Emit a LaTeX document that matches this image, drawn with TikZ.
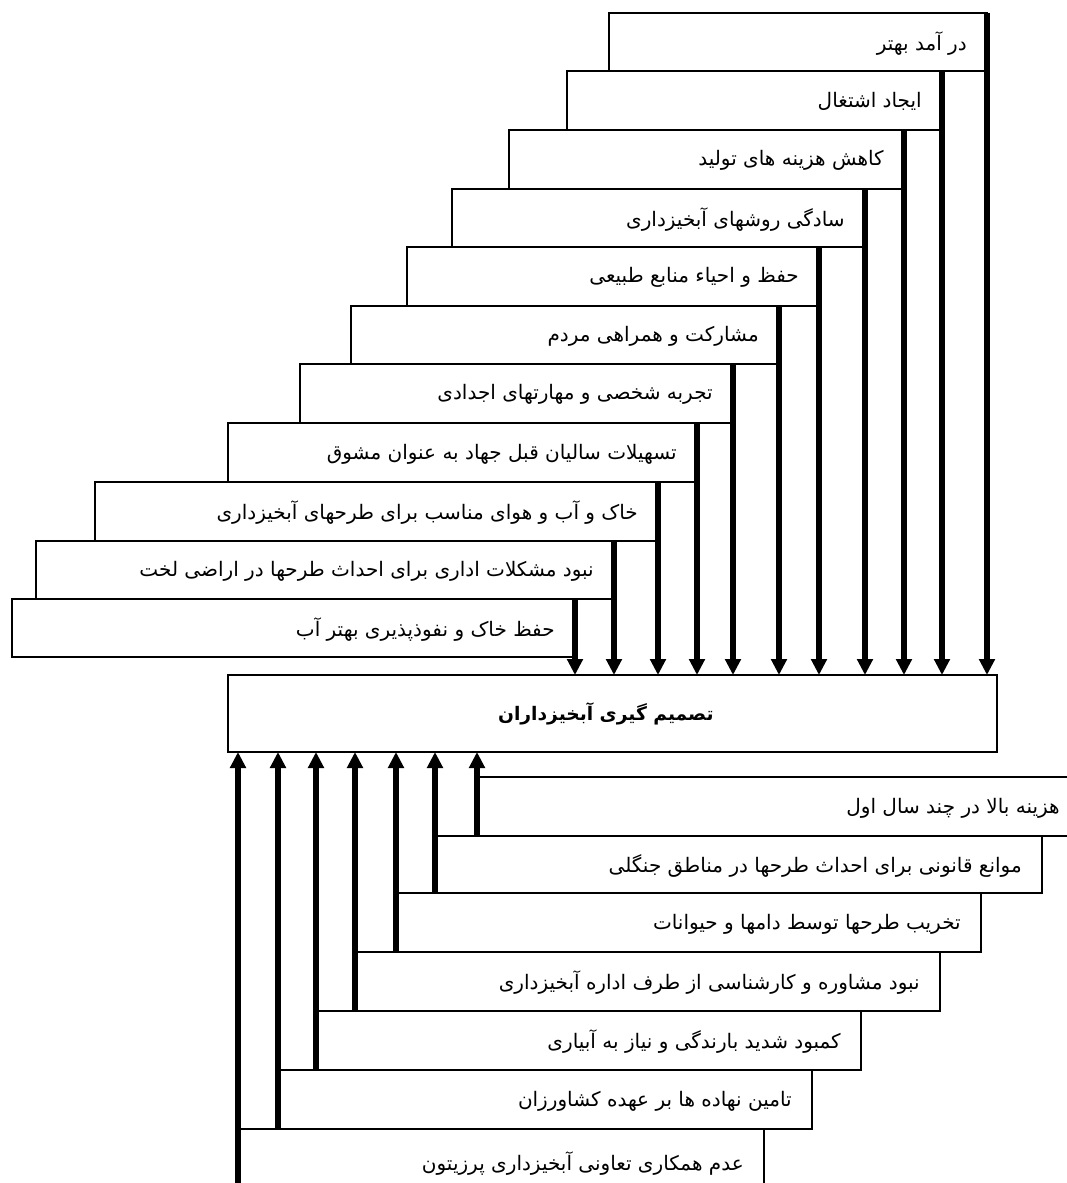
\documentclass[tikz,border=0pt]{standalone}
\usepackage{fontspec}
\usetikzlibrary{arrows.meta}
\TeXXeTstate=1
\newfontfamily\fa[Script=Arabic]{DejaVu Sans}
\newcommand\mkbox[6]{%
  \node[boxs, minimum width={(#4-#2)*0.75pt}, minimum height={(#5-#3)*0.75pt}] (#1) at ({(#2+#4)/2},{(#3+#5)/2}) {};
  \node[txt, anchor=east] (#1t) at ([xshift=-15pt,yshift=-1pt]#1.east) {\fa #6};
}
\begin{document}
\begin{tikzpicture}[x=0.75pt,y=-0.75pt,
  boxs/.style={draw, line width=1.5pt, inner sep=0pt, outer sep=0pt, rectangle},
  txt/.style={inner sep=0pt, font=\fontsize{15}{17}\selectfont},
  arr/.style={line width=3.8pt, -{Triangle[length=12pt,width=11.5pt]}, shorten >=0pt}]
\path[use as bounding box, clip] (0,0) rectangle (1067,1183);
\fill[white] (0,0) rectangle (1067,1183);
% top boxes
\mkbox{a1}{609}{13}{987}{71}{\beginR در آمد بهتر\endR}
\mkbox{a2}{567}{71}{942}{130}{\beginR ایجاد اشتغال\endR}
\mkbox{a3}{509}{130}{904}{189}{\beginR کاهش هزینه های تولید\endR}
\mkbox{a4}{452}{189}{865}{247}{\beginR سادگی روشهای آبخیزداری\endR}
\mkbox{a5}{407}{247}{819}{306}{\beginR حفظ و احیاء منابع طبیعی\endR}
\mkbox{a6}{351}{306}{779}{364}{\beginR مشارکت و همراهی مردم\endR}
\mkbox{a7}{300}{364}{733}{423}{\beginR تجربه شخصی و مهارتهای اجدادی\endR}
\mkbox{a8}{228}{423}{697}{482}{\beginR تسهیلات سالیان قبل جهاد به عنوان مشوق\endR}
\mkbox{a9}{95}{482}{658}{541}{\beginR خاک و آب و هوای مناسب برای طرحهای آبخیزداری\endR}
\mkbox{a10}{36}{541}{614}{599}{\beginR نبود مشکلات اداری برای احداث طرحها در اراضی لخت\endR}
\mkbox{a11}{12}{599}{575}{657}{\beginR حفظ خاک و نفوذپذیری بهتر آب\endR}
% central box
\node[boxs, minimum width={769*0.75pt}, minimum height={77*0.75pt}] (c) at (612.5,713.5) {};
\node[txt, font=\fontsize{14}{16}\bfseries] (ct) at ([xshift=-5pt]c.center) {\fa\beginR تصمیم گیری آبخیزداران\endR};
% bottom boxes
\mkbox{b1}{477}{777}{1080}{836}{\beginR هزینه بالا در چند سال اول\endR}
\mkbox{b2}{435}{836}{1042}{893}{\beginR موانع قانونی برای احداث طرحها در مناطق جنگلی\endR}
\mkbox{b3}{396}{893}{981}{952}{\beginR تخریب طرحها توسط دامها و حیوانات\endR}
\mkbox{b4}{355}{952}{940}{1011}{\beginR نبود مشاوره و کارشناسی از طرف اداره آبخیزداری\endR}
\mkbox{b5}{316}{1011}{861}{1070}{\beginR کمبود شدید بارندگی و نیاز به آبیاری\endR}
\mkbox{b6}{278}{1070}{812}{1129}{\beginR تامین نهاده ها بر عهده کشاورزان\endR}
\mkbox{b7}{238}{1129}{764}{1195}{\beginR عدم همکاری تعاونی آبخیزداری پرزیتون\endR}
% arrows down
\foreach \n in {a1,a2,a3,a4,a5,a6,a7,a8,a9,a10,a11}
  \draw[arr] (\n.north east) -- (\n.north east |- c.north);
% arrows up
\foreach \n in {b1,b2,b3,b4,b5,b6,b7}
  \draw[arr] (\n.south west) -- (\n.south west |- c.south);
\end{tikzpicture}
\end{document}
